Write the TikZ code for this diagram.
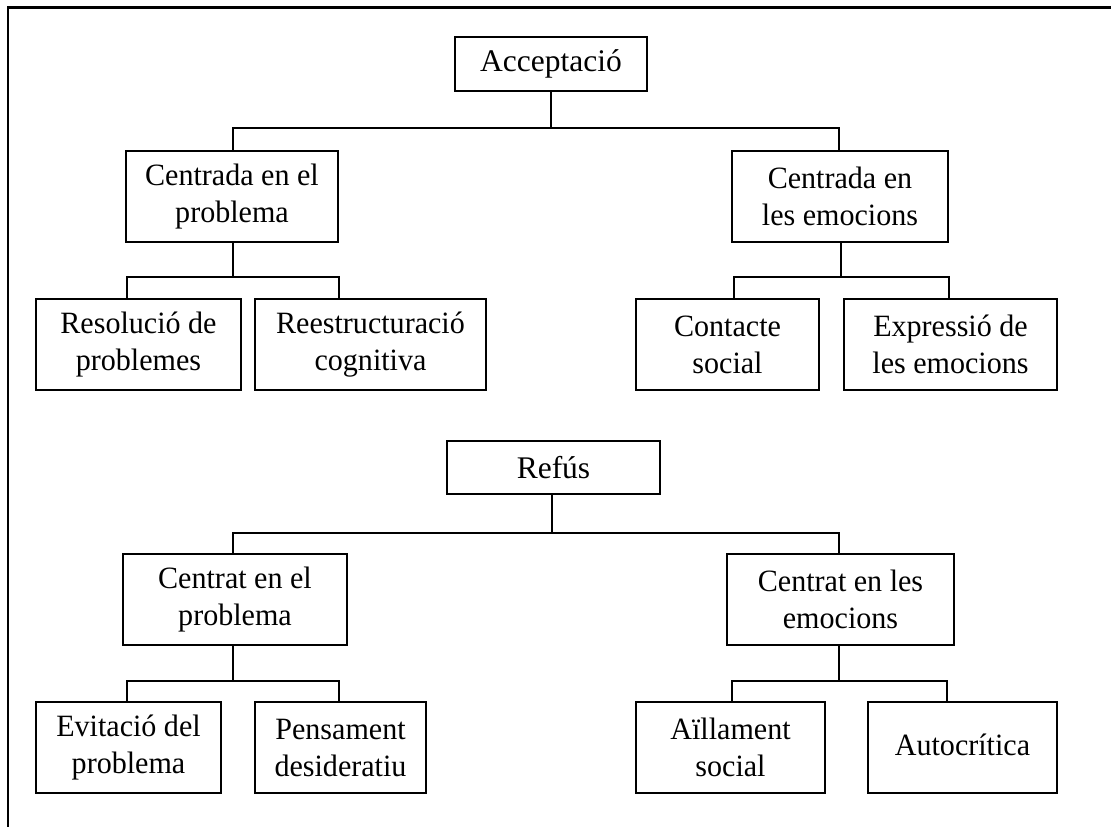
\documentclass[tikz,border=0pt]{standalone}
\usepackage{fontspec}
\setmainfont[FakeStretch=0.97]{Liberation Serif}
\newfontfamily\topfont{Liberation Serif}
\usetikzlibrary{calc}
\begin{document}
\begin{tikzpicture}[x=1pt,y=-1pt,
  box/.style={draw,line width=1.7pt,inner sep=0pt,align=center,
    font=\fontsize{31}{37}\selectfont},
  topbox/.style={box,font=\topfont\fontsize{31.5}{37}\selectfont},
  conn/.style={line width=1.7pt},
  frame/.style={line width=2pt}]
\useasboundingbox (0,0) rectangle (1111,827);
\draw[frame] (8,827) -- (8,7.5);
\draw[line width=3pt] (7,7.5) -- (1111,7.5);
% upper tree
\node[topbox,minimum width=192pt,minimum height=54pt] (acc) at (551,64) {Acceptació};
\node[box,minimum width=212pt,minimum height=91pt] (cp) at (232,196.5) {Centrada en el\\problema};
\node[box,minimum width=216pt,minimum height=91pt] (ce) at (840,196.5) {Centrada en\\les emocions};
\node[box,minimum width=205pt,minimum height=91pt] (res) at (138.5,344.5) {Resolució de\\problemes};
\node[box,minimum width=231pt,minimum height=91pt] (rc) at (370.5,344.5) {Reestructuració\\cognitiva};
\node[box,minimum width=183pt,minimum height=91pt] (cs) at (727.5,344.5) {Contacte\\social};
\node[box,minimum width=213pt,minimum height=91pt] (ex) at (950.5,344.5) {Expressió de\\les emocions};
\coordinate (bA) at (552,129);
\draw[conn] (acc.south) -- (acc.south |- bA);
\draw[conn] ($(cp.north)+(1,0)$) -- ++(0,-22) -| ($(ce.north)+(-1,0)$);
\coordinate (bB) at (233,277);
\draw[conn] ($(cp.south)+(1,0)$) -- (bB);
\draw[conn] ($(res.north)+(-11.5,0)$) |- (bB) -| ($(rc.north)+(-31.5,0)$);
\coordinate (bC) at (841,277);
\draw[conn] ($(ce.south)+(1,0)$) -- (bC);
\draw[conn] ($(cs.north)+(6.5,0)$) |- (bC) -| ($(ex.north)+(-1.5,0)$);
% lower tree
\node[topbox,minimum width=213pt,minimum height=53pt] (ref) at (553.5,467.5) {Refús};
\node[box,minimum width=224pt,minimum height=91pt] (np) at (235,599.5) {Centrat en el\\problema};
\node[box,minimum width=227pt,minimum height=91pt] (ne) at (840.5,599.5) {Centrat en les\\emocions};
\node[box,minimum width=185pt,minimum height=91pt] (ev) at (128.5,747.5) {Evitació del\\problema};
\node[box,minimum width=171pt,minimum height=91pt] (pd) at (340.5,747.5) {Pensament\\desideratiu};
\node[box,minimum width=189pt,minimum height=91pt] (ai) at (730.5,747.5) {Aïllament\\social};
\node[box,minimum width=189pt,minimum height=91pt] (au) at (962.5,747.5) {\raisebox{5pt}{Autocrítica}};
\coordinate (bD) at (552,533);
\draw[conn] ($(ref.south)+(-1.5,0)$) -- (bD);
\draw[conn] ($(np.north)+(-2,0)$) |- (bD) -| ($(ne.north)+(-1.5,0)$);
\coordinate (bE) at (233,681);
\draw[conn] ($(np.south)+(-2,0)$) -- (bE);
\draw[conn] ($(ev.north)+(-1.5,0)$) |- (bE) -| ($(pd.north)+(-1.5,0)$);
\coordinate (bF) at (839,681);
\draw[conn] ($(ne.south)+(-1.5,0)$) -- (bF);
\draw[conn] ($(ai.north)+(1.5,0)$) |- (bF) -| ($(au.north)+(-15.5,0)$);
\end{tikzpicture}
\end{document}
